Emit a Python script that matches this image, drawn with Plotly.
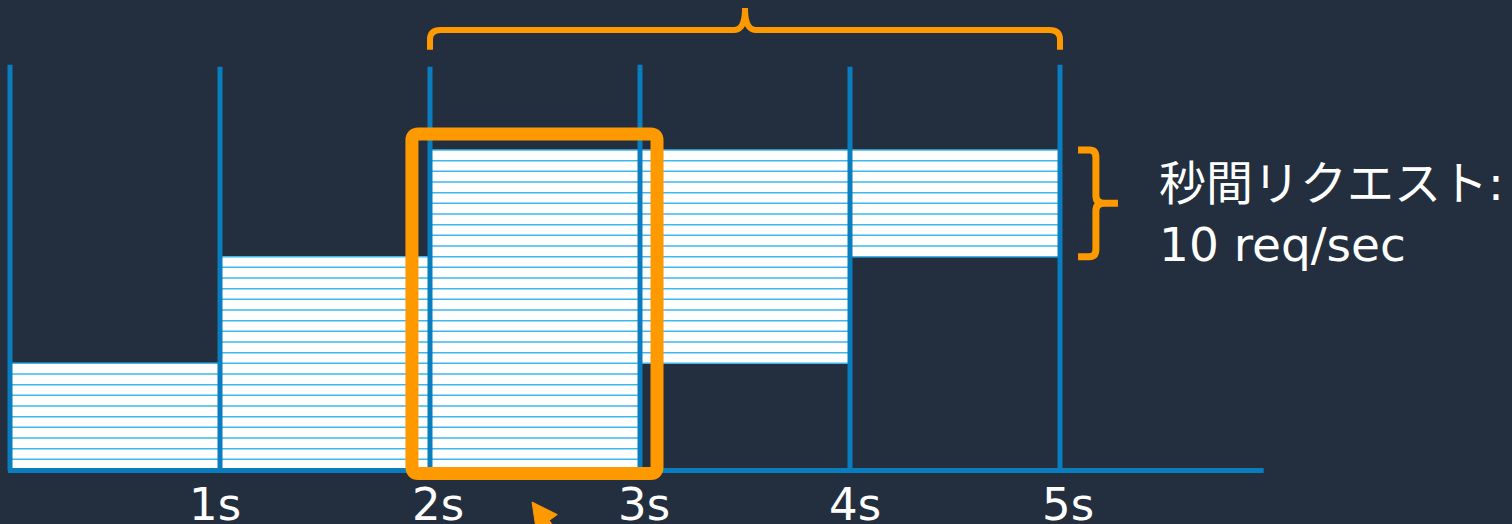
import math
import plotly.graph_objects as go

# ---- data ----
seconds = [0, 1, 2, 3, 4]            # each 1-second slot
req_low = [0, 0, 0, 10, 20]          # lower edge of the requests band in that slot
req_high = [10, 20, 30, 30, 30]      # upper edge of the requests band in that slot
boundaries = [0, 1, 2, 3, 4, 5]      # slot boundary lines
boundary_tops = [38.0, 37.8, 37.8, 38.0, 37.8, 38.0]
tick_values = [1, 2, 3, 4, 5]
tick_labels = ["1s", "2s", "3s", "4s", "5s"]
rate_label = "秒間リクエスト:<br>10 req/sec"
window_x = [1.914, 3.081]   # highlighted window (orange box)
window_y = [-0.33, 31.5]
brace_span = [2, 5]         # top brace across 2s..5s
rate_span = [20, 30]        # right brace covering 10 requests
arrow_tip = (2.486, -3.0)   # pointer arrow below the window

BG = "#232F3E"
BLUE = "#0A7DBE"
STRIPE = "#3DB7EE"
ORANGE = "#FF9900"
FONT = "DejaVu Sans, Noto Sans CJK JP, sans-serif"

XR = [-10/210, 1502/210]
YR = [-54/10.667, 470/10.667]
PXX = 1512 / (XR[1] - XR[0])   # px per x unit
PXY = 524 / (YR[1] - YR[0])    # px per y unit

fig = go.Figure()
# white request bands
fig.add_trace(go.Bar(
    x=[s + 0.5 for s in seconds],
    y=[h - l for l, h in zip(req_low, req_high)],
    base=req_low, width=1.0,
    marker=dict(color="#FFFFFF", line=dict(width=0)),
    hoverinfo="skip", showlegend=False,
))

# one stripe per request unit
sx, sy = [], []
for s, lo, hi in zip(seconds, req_low, req_high):
    for k in range(max(lo, 1), hi + 1):
        sx += [s, s + 1, None]
        sy += [k, k, None]
fig.add_trace(go.Scatter(x=sx, y=sy, mode="lines",
                         line=dict(color=STRIPE, width=1.5),
                         hoverinfo="skip", showlegend=False))

# slot boundary lines
lx, ly = [], []
for b, t in zip(boundaries, boundary_tops):
    lx += [b, b, None]
    ly += [0, t, None]
fig.add_trace(go.Scatter(x=lx, y=ly, mode="lines",
                         line=dict(color=BLUE, width=5),
                         hoverinfo="skip", showlegend=False))
# baseline
fig.add_trace(go.Scatter(x=[-0.01, 5.97], y=[-0.05, -0.05], mode="lines",
                         line=dict(color=BLUE, width=5),
                         hoverinfo="skip", showlegend=False))

# orange window box with rounded corners
x0, x1 = window_x
y0, y1 = window_y
rx, ry = 0.03, 0.6
box_path = (f"M {x0+rx},{y1} L {x1-rx},{y1} Q {x1},{y1} {x1},{y1-ry} "
            f"L {x1},{y0+ry} Q {x1},{y0} {x1-rx},{y0} "
            f"L {x0+rx},{y0} Q {x0},{y0} {x0},{y0+ry} "
            f"L {x0},{y1-ry} Q {x0},{y1} {x0+rx},{y1} Z")
fig.add_shape(type="path", path=box_path, line=dict(color=ORANGE, width=13),
              fillcolor="rgba(0,0,0,0)", layer="above")

# top brace
a, b = brace_span
mid = (a + b) / 2
ye, yh, yc = 39.4, 41.25, 43.3
top_path = (f"M {a},{ye} L {a},{yh-0.9} Q {a},{yh} {a+0.05},{yh} "
            f"L {mid-0.05},{yh} Q {mid},{yh} {mid},{yc} "
            f"Q {mid},{yh} {mid+0.05},{yh} L {b-0.05},{yh} "
            f"Q {b},{yh} {b},{yh-0.9} L {b},{ye}")
fig.add_shape(type="path", path=top_path, line=dict(color=ORANGE, width=6),
              layer="above")

# right brace
lo, hi = rate_span
ym = (lo + hi) / 2
xa, xv, xp = 5.086, 5.171, 5.276
r_path = (f"M {xa},{hi} L {xv-0.03},{hi} Q {xv},{hi} {xv},{hi-0.7} "
          f"L {xv},{ym+0.7} Q {xv},{ym} {xv+0.04},{ym} L {xp},{ym} "
          f"M {xv+0.04},{ym} Q {xv},{ym} {xv},{ym-0.7} "
          f"L {xv},{lo+0.7} Q {xv},{lo} {xv-0.03},{lo} L {xa},{lo}")
fig.add_shape(type="path", path=r_path, line=dict(color=ORANGE, width=7),
              layer="above")

# pointer arrow (head + shaft), pointing up-left, shaft running off the bottom
ang = math.radians(54)              # direction from tip toward tail (screen coords)
dx, dy = math.cos(ang), math.sin(ang)
head_len, head_half, shaft_len = 25, 13, 60
tx, ty = arrow_tip
def pt(px_off, py_off):
    return (tx + px_off / PXX, ty - py_off / PXY)
bcx, bcy = dx * head_len, dy * head_len
c1 = pt(bcx - dy * head_half, bcy + dx * head_half)
c2 = pt(bcx + dy * head_half, bcy - dx * head_half)
tip = pt(0, 0)
fig.add_shape(type="path",
              path=f"M {tip[0]},{tip[1]} L {c1[0]},{c1[1]} L {c2[0]},{c2[1]} Z",
              fillcolor=ORANGE, line=dict(color=ORANGE, width=1), layer="above")
s0 = pt(dx * (head_len - 4), dy * (head_len - 4))
s1 = pt(dx * shaft_len, dy * shaft_len)
fig.add_shape(type="line", x0=s0[0], y0=s0[1], x1=s1[0], y1=s1[1],
              line=dict(color=ORANGE, width=7), layer="above")

annotations = []
label_shift = [-5, 8, 4, 5, 8]
for v, t, sh in zip(tick_values, tick_labels, label_shift):
    annotations.append(dict(x=v, y=-3.2, text=t, showarrow=False, xshift=sh,
                            xanchor="center", yanchor="middle",
                            font=dict(family=FONT, size=45, color="#FFFFFF")))
annotations.append(dict(x=5.462, y=24.0, text=rate_label, showarrow=False,
                        xanchor="left", yanchor="middle", align="left",
                        font=dict(family=FONT, size=47, color="#FFFFFF")))

fig.update_layout(
    width=1512, height=524,
    margin=dict(l=0, r=0, t=0, b=0),
    paper_bgcolor=BG, plot_bgcolor=BG,
    xaxis=dict(range=XR, visible=False, fixedrange=True),
    yaxis=dict(range=YR, visible=False, fixedrange=True),
    bargap=0, annotations=annotations, showlegend=False,
)
fig.write_html("out.html", config={"displayModeBar": False})
